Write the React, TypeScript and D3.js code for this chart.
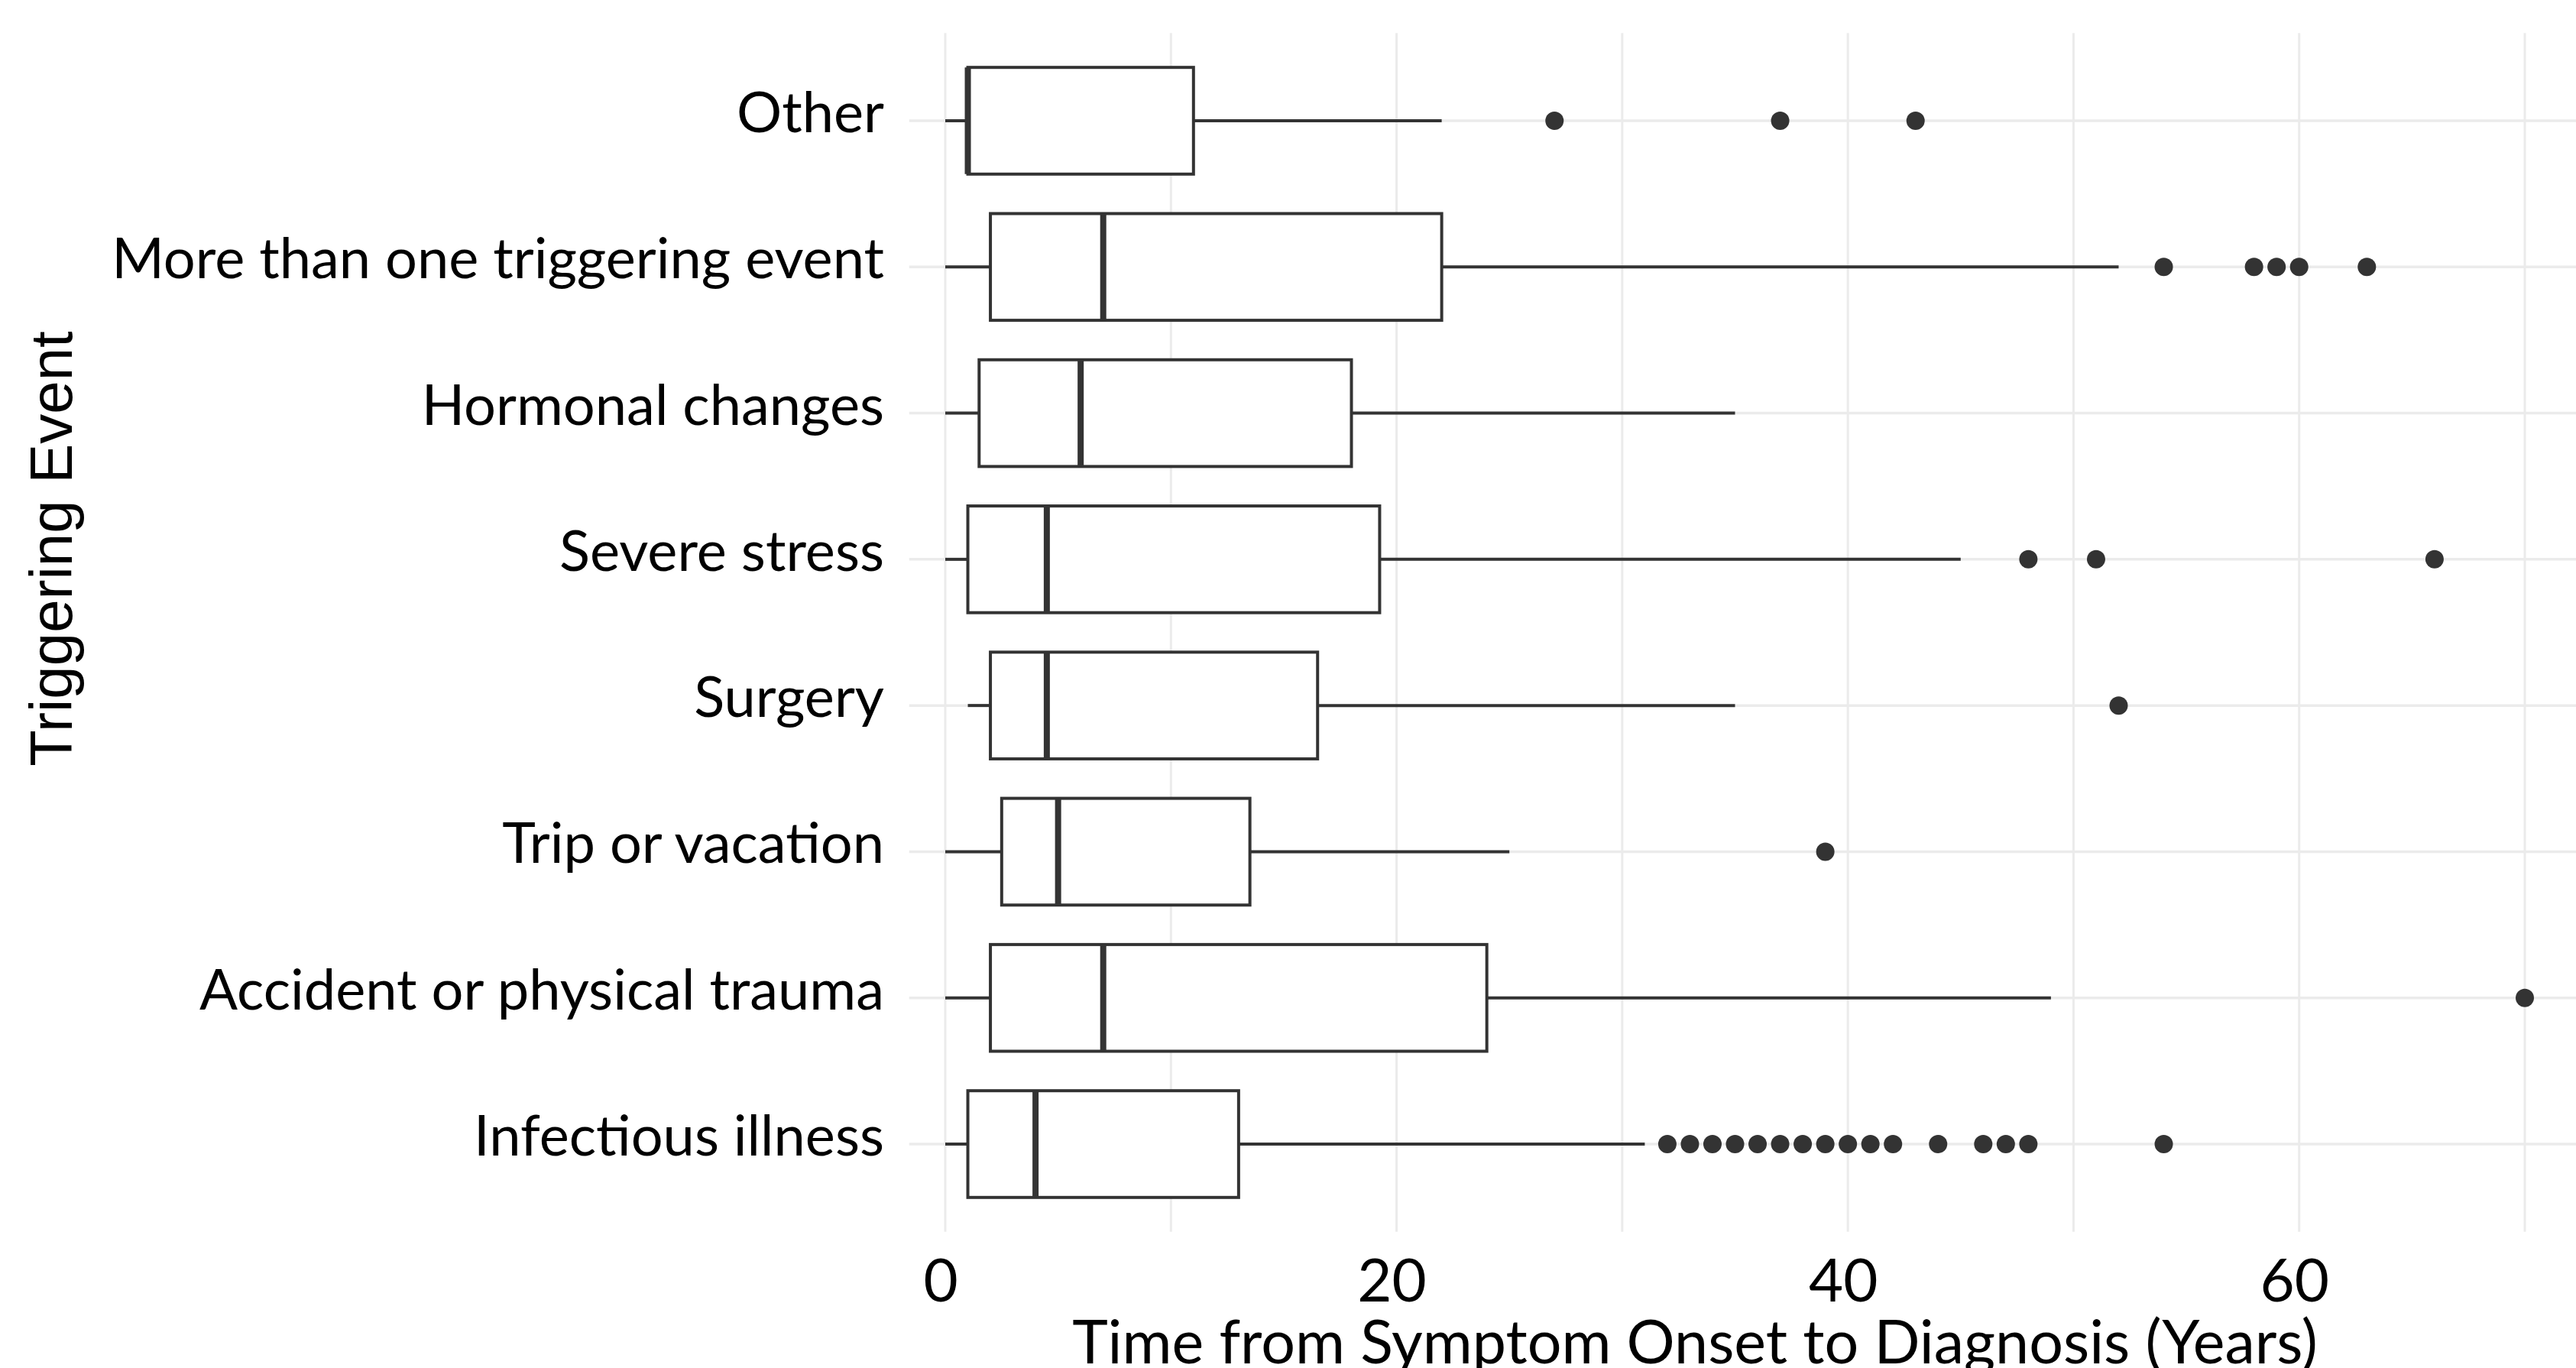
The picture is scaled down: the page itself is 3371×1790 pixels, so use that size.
import React from 'react';
import * as d3 from 'd3';

// categories, top to bottom
const categories = [
  'Other',
  'More than one triggering event',
  'Hormonal changes',
  'Severe stress',
  'Surgery',
  'Trip or vacation',
  'Accident or physical trauma',
  'Infectious illness',
];

// box statistics (years)
const lowers = [0, 0, 0, 0, 1, 0, 0, 0];
const q1s = [1, 2, 1.5, 1, 2, 2.5, 2, 1];
const medians = [1, 7, 6, 4.5, 4.5, 5, 7, 4];
const q3s = [11, 22, 18, 19.25, 16.5, 13.5, 24, 13];
const uppers = [22, 52, 35, 45, 35, 25, 49, 31];
const outliers = [
  [27, 37, 43],
  [54, 58, 59, 60, 63],
  [],
  [48, 51, 66],
  [52],
  [39],
  [70],
  [32, 33, 34, 35, 36, 37, 38, 39, 40, 41, 42, 44, 46, 47, 48, 54],
];

const xTicks = [0, 20, 40, 60];
const xMinor = [10, 30, 50, 70];

const WIDTH = 3371;
const HEIGHT = 1790;
const calibriLike = 'Lato, "Open Sans", sans-serif';

const BoxRow = ({ i, x, y, boxH }) => {
  const cy = y(categories[i]);
  const stroke = '#333333';
  return (
    <g className="box">
      <line x1={x(lowers[i])} x2={x(q1s[i])} y1={cy} y2={cy} stroke={stroke} strokeWidth={4} />
      <line x1={x(q3s[i])} x2={x(uppers[i])} y1={cy} y2={cy} stroke={stroke} strokeWidth={4} />
      <rect
        x={x(q1s[i])}
        y={cy - boxH / 2}
        width={x(q3s[i]) - x(q1s[i])}
        height={boxH}
        fill="#fff"
        stroke={stroke}
        strokeWidth={4}
      />
      <line
        x1={x(medians[i])}
        x2={x(medians[i])}
        y1={cy - boxH / 2}
        y2={cy + boxH / 2}
        stroke={stroke}
        strokeWidth={8}
      />
      {outliers[i].map((v, k) => (
        // eslint-disable-next-line react/no-array-index-key
        <circle key={k} cx={x(v)} cy={cy} r={12} fill={stroke} />
      ))}
    </g>
  );
};

const App = () => {
  const x = d3.scaleLinear().domain([0, 70]).range([1237, 3304]);
  const y = d3.scalePoint().domain(categories).range([158, 1497]);
  const step = y.step();
  const boxH = step * 0.73;
  const top = y(categories[0]) - step * 0.6;
  const bottom = y(categories[categories.length - 1]) + step * 0.6;
  const gridLeft = x(-1.6);

  return (
    <svg
      width={WIDTH}
      height={HEIGHT}
      style={{ position: 'absolute', left: 0, top: 0, background: '#fff' }}
    >
      <rect width={WIDTH} height={HEIGHT} fill="#fff" />
      <g className="grid">
        {[...xTicks, ...xMinor].map((t) => (
          <line key={t} x1={x(t)} x2={x(t)} y1={top} y2={bottom} stroke="#ebebeb" strokeWidth={3} />
        ))}
        {categories.map((c) => (
          <line key={c} x1={gridLeft} x2={WIDTH} y1={y(c)} y2={y(c)} stroke="#ebebeb" strokeWidth={3.5} />
        ))}
      </g>
      {categories.map((c, i) => (
        <BoxRow key={c} i={i} x={x} y={y} boxH={boxH} />
      ))}
      <g className="y-labels" fontFamily={calibriLike} fontSize={74} fill="#000">
        {categories.map((c) => (
          <text key={c} x={1157} y={y(c) + 15} textAnchor="end">
            {c}
          </text>
        ))}
      </g>
      <g className="x-ticks" fontFamily={calibriLike} fontSize={78} fill="#000">
        {xTicks.map((t) => (
          <text key={t} x={x(t) - 6} y={1703} textAnchor="middle">
            {t}
          </text>
        ))}
      </g>
      <text x={2218} y={1784} textAnchor="middle" fontFamily={calibriLike} fontSize={79} fill="#000">
        Time from Symptom Onset to Diagnosis (Years)
      </text>
      <text
        transform="translate(94 718) rotate(-90)"
        textAnchor="middle"
        fontFamily='"Liberation Sans", Arial, sans-serif'
        fontSize={78}
        fill="#000"
      >
        Triggering Event
      </text>
    </svg>
  );
};

export default App;
